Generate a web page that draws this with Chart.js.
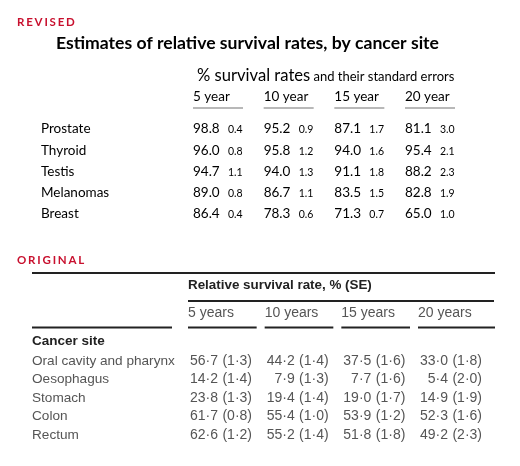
<!DOCTYPE html>
<html><head><meta charset="utf-8">
<script src="https://cdn.jsdelivr.net/npm/chart.js@4.4.1/dist/chart.umd.min.js"></script>
<style>
html,body{margin:0;padding:0;background:#fff;}
#wrap{position:relative;width:520px;height:466px;overflow:hidden;background:#fff;}
canvas{position:absolute;left:0;}
#c1{top:0;}
#c2{top:240px;}
</style></head><body>
<div id="wrap"><canvas id="c1" width="520" height="240"></canvas><canvas id="c2" width="520" height="226"></canvas></div>
<script>
// ---------- REVISED table data ----------
const revisedPeriods = ['5 year', '10 year', '15 year', '20 year'];
const revisedSites = ['Prostate', 'Thyroid', 'Testis', 'Melanomas', 'Breast'];
const revisedRates = [
  [98.8, 95.2, 87.1, 81.1],
  [96.0, 95.8, 94.0, 95.4],
  [94.7, 94.0, 91.1, 88.2],
  [89.0, 86.7, 83.5, 82.8],
  [86.4, 78.3, 71.3, 65.0]
];
const revisedSE = [
  [0.4, 0.9, 1.7, 3.0],
  [0.8, 1.2, 1.6, 2.1],
  [1.1, 1.3, 1.8, 2.3],
  [0.8, 1.1, 1.5, 1.9],
  [0.4, 0.6, 0.7, 1.0]
];
// ---------- ORIGINAL table data ----------
const originalPeriods = ['5 years', '10 years', '15 years', '20 years'];
const originalSites = ['Oral cavity and pharynx', 'Oesophagus', 'Stomach', 'Colon', 'Rectum'];
const originalRates = [
  [56.7, 44.2, 37.5, 33.0],
  [14.2, 7.9, 7.7, 5.4],
  [23.8, 19.4, 19.0, 14.9],
  [61.7, 55.4, 53.9, 52.3],
  [62.6, 55.2, 51.8, 49.2]
];
const originalSE = [
  [1.3, 1.4, 1.6, 1.8],
  [1.4, 1.3, 1.6, 2.0],
  [1.3, 1.4, 1.7, 1.9],
  [0.8, 1.0, 1.2, 1.6],
  [1.2, 1.4, 1.8, 2.3]
];

const RED = '#c8102e';

function cells(sites, periods, rates, se) {
  const out = [];
  sites.forEach((s, r) => periods.forEach((p, c) => out.push({x: p, y: s, rate: rates[r][c], se: se[r][c]})));
  return out;
}

function baseOptions(periods, sites, padding) {
  return {
    responsive: false,
    animation: false,
    events: [],
    layout: {padding: padding},
    plugins: {legend: {display: false}, tooltip: {enabled: false}, title: {display: false}},
    scales: {
      x: {type: 'category', labels: periods, offset: false, display: false},
      y: {type: 'category', labels: sites, offset: false, display: false}
    }
  };
}

// ---------- REVISED ----------
const revisedPlugin = {
  id: 'revisedTable',
  afterDatasetsDraw(chart) {
    const ctx = chart.ctx, xs = chart.scales.x, ys = chart.scales.y;
    const top = chart.chartArea.top;
    ctx.save();
    ctx.textBaseline = 'middle';
    ctx.textAlign = 'left';
    // section label
    ctx.fillStyle = RED;
    ctx.font = 'bold 11.5px Lato';
    ctx.letterSpacing = '1.8px';
    ctx.fillText('REVISED', 17, 22);
    ctx.letterSpacing = '0px';
    // title
    ctx.fillStyle = '#000';
    ctx.font = 'bold 17.6px Lato';
    ctx.textAlign = 'center';
    ctx.fillText('Estimates of relative survival rates, by cancer site', 247.5, 43);
    // subtitle
    ctx.textAlign = 'left';
    ctx.font = '16.6px Lato';
    const s1 = '% survival rates ';
    const sx = xs.getPixelForValue(0) + 4;
    ctx.fillText(s1, sx, 76);
    const w1 = ctx.measureText(s1).width;
    ctx.font = '13px Lato';
    ctx.fillText('and their standard errors', sx + w1 - 1, 77);
    // column headers + underlines
    revisedPeriods.forEach((p, i) => {
      const px = xs.getPixelForValue(i);
      ctx.fillStyle = '#000';
      ctx.font = '13.5px Lato';
      ctx.fillText(p, px, top - 32);
      ctx.strokeStyle = '#b8b8b8';
      ctx.lineWidth = 2;
      ctx.beginPath();
      ctx.moveTo(px, top - 21);
      ctx.lineTo(px + 50, top - 21);
      ctx.stroke();
    });
    // row labels
    ctx.fillStyle = '#000';
    ctx.font = '13.5px Lato';
    revisedSites.forEach((s, i) => ctx.fillText(s, 41, ys.getPixelForValue(i)));
    // cells
    const ds = chart.data.datasets[0];
    chart.getDatasetMeta(0).data.forEach((el, i) => {
      const d = ds.data[i];
      ctx.font = '13.5px Lato';
      ctx.fillText(d.rate.toFixed(1), el.x, el.y);
      ctx.font = '10.5px Lato';
      ctx.fillText(d.se.toFixed(1), el.x + 35, el.y + 1);
    });
    ctx.restore();
  }
};

new Chart(document.getElementById('c1'), {
  type: 'scatter',
  data: {datasets: [{data: cells(revisedSites, revisedPeriods, revisedRates, revisedSE), pointRadius: 0}]},
  options: baseOptions(revisedPeriods, revisedSites, {left: 193, right: 115, top: 129, bottom: 26}),
  plugins: [revisedPlugin]
});

// ---------- ORIGINAL ----------
const fmt = v => v.toFixed(1).replace('.', '\u00B7');
const originalPlugin = {
  id: 'originalTable',
  afterDatasetsDraw(chart) {
    const ctx = chart.ctx, xs = chart.scales.x, ys = chart.scales.y;
    const F = 'Liberation Sans, Arial, sans-serif';
    ctx.save();
    ctx.textBaseline = 'middle';
    ctx.textAlign = 'left';
    ctx.fillStyle = RED;
    ctx.font = 'bold 11.5px Lato';
    ctx.letterSpacing = '1.8px';
    ctx.fillText('ORIGINAL', 17, 20);
    ctx.letterSpacing = '0px';
    // rules
    ctx.strokeStyle = '#222';
    ctx.lineWidth = 2;
    const line = (x0, x1, y) => { ctx.beginPath(); ctx.moveTo(x0, y); ctx.lineTo(x1, y); ctx.stroke(); };
    const firstX = xs.getPixelForValue(0) - 64;
    line(32, 495, 33);
    line(firstX, 494, 61);
    // spanner header
    ctx.fillStyle = '#222';
    ctx.font = 'bold 13.4px ' + F;
    ctx.fillText('Relative survival rate, % (SE)', firstX, 45);
    // column headers and underlines
    ctx.font = '14px ' + F;
    originalPeriods.forEach((p, i) => {
      const px = xs.getPixelForValue(i) - 64;
      ctx.fillStyle = '#555';
      ctx.fillText(p, px, 73);
      const end = i < originalPeriods.length - 1 ? xs.getPixelForValue(i + 1) - 72 : 495;
      ctx.strokeStyle = '#222';
      line(px, end, 87.5);
    });
    line(32, 172, 87.5);
    ctx.fillStyle = '#222';
    ctx.font = 'bold 13.5px ' + F;
    ctx.fillText('Cancer site', 32, 101.5);
    // row labels
    ctx.fillStyle = '#555';
    ctx.font = '13.6px ' + F;
    originalSites.forEach((s, i) => ctx.fillText(s, 32, ys.getPixelForValue(i)));
    // cells
    ctx.font = '14px ' + F;
    const ds = chart.data.datasets[0];
    ctx.textAlign = 'right';
    chart.getDatasetMeta(0).data.forEach((el, i) => {
      const d = ds.data[i];
      ctx.fillText(fmt(d.rate), el.x - 34, el.y);
      ctx.fillText('(' + fmt(d.se) + ')', el.x, el.y);
    });
    ctx.restore();
  }
};

new Chart(document.getElementById('c2'), {
  type: 'scatter',
  data: {datasets: [{data: cells(originalSites, originalPeriods, originalRates, originalSE), pointRadius: 0}]},
  options: baseOptions(originalPeriods, originalSites, {left: 252, right: 38, top: 121, bottom: 31}),
  plugins: [originalPlugin]
});
</script>
</body></html>
